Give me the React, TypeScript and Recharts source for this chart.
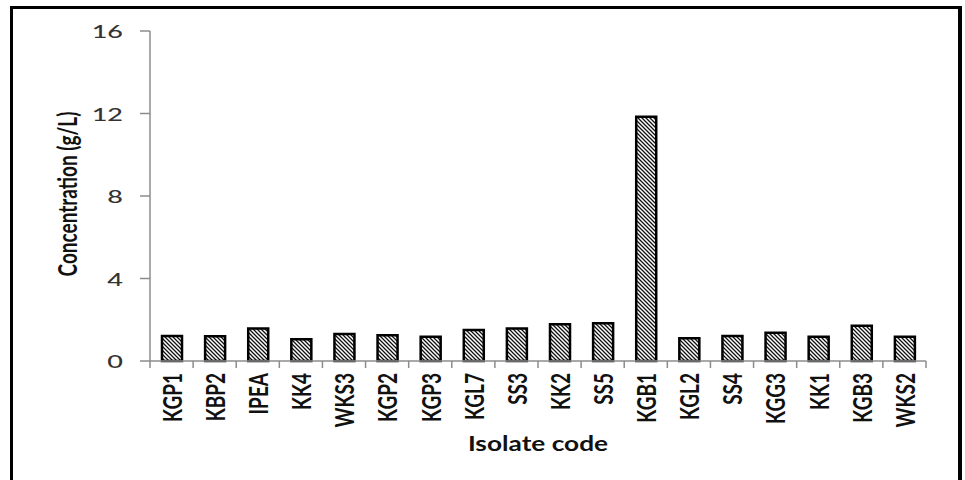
import { BarChart, Bar, XAxis, YAxis, Label } from 'recharts';

const isolates = [
  'KGP1', 'KBP2', 'IPEA', 'KK4', 'WKS3', 'KGP2', 'KGP3', 'KGL7', 'SS3',
  'KK2', 'SS5', 'KGB1', 'KGL2', 'SS4', 'KGG3', 'KK1', 'KGB3', 'WKS2',
];
const concentration = [
  1.21, 1.2, 1.57, 1.05, 1.31, 1.25, 1.17, 1.5, 1.57,
  1.78, 1.83, 11.84, 1.1, 1.21, 1.37, 1.17, 1.71, 1.17,
];
const yTicks = [0, 4, 8, 12, 16];

const data = isolates.map((name, i) => ({ name, value: concentration[i] }));

const AXIS_COLOR = '#8c8c8c';
const FONT = 'Lato, "Open Sans", sans-serif';

// category ticks sit between the bars, label centred under each bar
const XTick = (props: any) => {
  const { x, y, payload } = props;
  const half = payload.offset || 21.5;
  const isLast = payload.value === isolates[isolates.length - 1];
  return (
    <g>
      <line x1={x - half} x2={x - half} y1={y} y2={y + 7} stroke={AXIS_COLOR} strokeWidth={1.5} />
      {isLast && (
        <line x1={x + half} x2={x + half} y1={y} y2={y + 7} stroke={AXIS_COLOR} strokeWidth={1.5} />
      )}
      <text
        transform={`translate(${x},${y + 12}) rotate(-90) scale(1,1.4)`}
        textAnchor="end"
        dominantBaseline="central"
        fontFamily={FONT}
        fontWeight={700}
        fontSize={19}
        fill="#111"
      >
        {payload.value}
      </text>
    </g>
  );
};

const YTick = (props: any) => {
  const { x, y, payload } = props;
  return (
    <g>
      <line x1={x - 10} x2={x} y1={y} y2={y} stroke={AXIS_COLOR} strokeWidth={1.5} />
      <text
        transform={`translate(${x - 27},${y}) scale(1.5,1)`}
        textAnchor="end"
        dominantBaseline="central"
        fontFamily={FONT}
        fontWeight={500}
        fontSize={18}
        fill="#333"
      >
        {payload.value}
      </text>
    </g>
  );
};

export default function App() {
  return (
    <div style={{ position: 'absolute', left: 0, top: 0, width: 965, height: 480, overflow: 'hidden', background: '#fff' }}>
      <div
        style={{
          position: 'absolute',
          left: 10,
          top: 6,
          width: 945,
          height: 520,
          border: '3px solid #000',
          borderRightWidth: 4,
        }}
      />
      <div style={{ position: 'absolute', left: 0, top: 0 }}>
        <BarChart
          width={965}
          height={480}
          data={data}
          margin={{ top: 31, right: 39, bottom: 49, left: 0 }}
          barSize={20}
        >
          <defs>
            <pattern id="hatch" patternUnits="userSpaceOnUse" width={4} height={4}>
              <rect width={4} height={4} fill="#fff" />
              <path d="M-1,-1 L5,5 M-1,3 L1,5 M3,-1 L5,1" stroke="#111" strokeWidth={1.3} />
            </pattern>
          </defs>
          <XAxis
            dataKey="name"
            interval={0}
            height={70}
            tickSize={0}
            tickMargin={0}
            tickLine={false}
            axisLine={{ stroke: AXIS_COLOR, strokeWidth: 1.5 }}
            tick={<XTick />}
          >
            <Label
              content={({ viewBox }: any) => (
                <text
                  transform={`translate(${viewBox.x + viewBox.width / 2},${viewBox.y + 82}) scale(1.25,1)`}
                  textAnchor="middle"
                  dominantBaseline="central"
                  fontFamily={FONT}
                  fontWeight={700}
                  fontSize={21}
                  fill="#111"
                >
                  Isolate code
                </text>
              )}
            />
          </XAxis>
          <YAxis
            width={150}
            domain={[0, 16]}
            ticks={yTicks}
            tickSize={0}
            tickMargin={0}
            tickLine={false}
            axisLine={{ stroke: AXIS_COLOR, strokeWidth: 1.5 }}
            tick={<YTick />}
          >
            <Label
              content={({ viewBox }: any) => (
                <text
                  transform={`translate(${viewBox.x + 67},${viewBox.y + viewBox.height / 2 - 2}) rotate(-90) scale(1,1.4)`}
                  textAnchor="middle"
                  dominantBaseline="central"
                  fontFamily={FONT}
                  fontWeight={700}
                  fontSize={19}
                  fill="#111"
                >
                  Concentration (g/L)
                </text>
              )}
            />
          </YAxis>
          <Bar
            dataKey="value"
            fill="url(#hatch)"
            stroke="#000"
            strokeWidth={2.5}
            isAnimationActive={false}
          />
        </BarChart>
      </div>
    </div>
  );
}
